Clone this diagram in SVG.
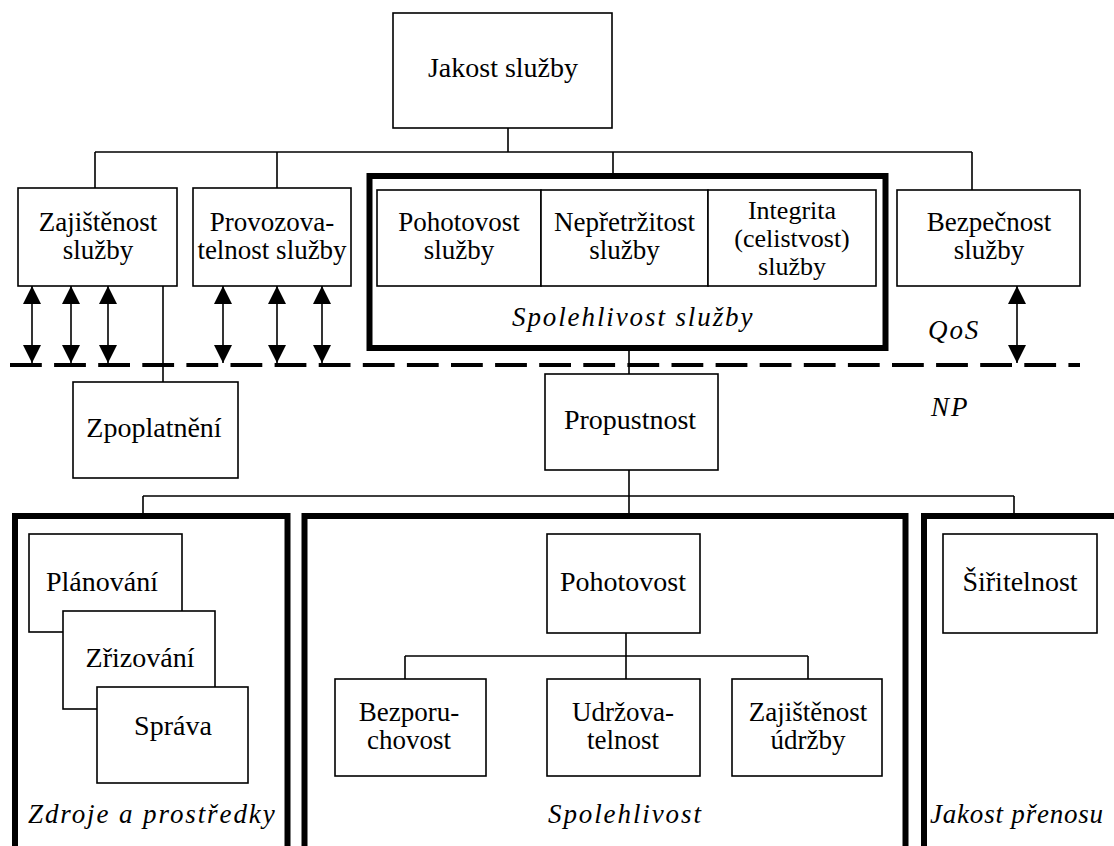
<svg xmlns="http://www.w3.org/2000/svg" width="1114" height="846" viewBox="0 0 1114 846">
<style>
.box{fill:#fff;stroke:#000;stroke-width:1.6}
.thick{fill:none;stroke:#000;stroke-width:6}
.ln{fill:none;stroke:#000;stroke-width:1.6}
.arr{fill:none;stroke:#000;stroke-width:1.6;marker-start:url(#ah);marker-end:url(#ah)}
.dash{fill:none;stroke:#000;stroke-width:4;stroke-dasharray:31.8 12.3}
.t{font-family:"Liberation Serif","Times New Roman",serif;font-size:28px;text-anchor:middle;fill:#000}
.t2{font-family:"Liberation Serif","Times New Roman",serif;font-size:27px;text-anchor:middle;fill:#000}
.t3{font-family:"Liberation Serif","Times New Roman",serif;font-size:26px;text-anchor:middle;fill:#000}
.it{font-family:"Liberation Serif","Times New Roman",serif;font-style:italic;font-size:27px;letter-spacing:1.9px;fill:#000}
</style>
<defs>
<marker id="ah" viewBox="0 0 18 18" markerWidth="18" markerHeight="18" markerUnits="userSpaceOnUse" refX="18" refY="9" orient="auto-start-reverse">
<path d="M0,0 L18,9 L0,18 z" fill="#000"/>
</marker>
</defs>
<rect width="1114" height="846" fill="#fff"/>

<g id="qos-np-boundary">
<line class="dash" x1="10" y1="365" x2="1080" y2="365"/>
<text class="it" x="928" y="339">QoS</text>
<text class="it" x="931" y="416">NP</text>
</g>

<g id="connectors">
<path class="ln" d="M508,128 V152 M95,152 H972 M95,152 V188 M277,152 V188 M613,152 V173 M972,152 V190"/>
<path class="ln" d="M163,286 V382"/>
<path class="ln" d="M629,351 V374 M629,470 V513"/>
<path class="ln" d="M143,496 H1014 M143,496 V513 M1014,496 V513"/>
<path class="ln" d="M626,633 V679 M405,656 H808 M405,656 V679 M808,656 V679"/>
<line class="arr" x1="32" y1="286" x2="32" y2="363"/>
<line class="arr" x1="71" y1="286" x2="71" y2="363"/>
<line class="arr" x1="108" y1="286" x2="108" y2="363"/>
<line class="arr" x1="223" y1="286" x2="223" y2="363"/>
<line class="arr" x1="277" y1="286" x2="277" y2="363"/>
<line class="arr" x1="322" y1="286" x2="322" y2="363"/>
<line class="arr" x1="1017" y1="286" x2="1017" y2="363"/>
</g>

<g id="jakost-sluzby">
<rect class="box" x="393" y="13" width="219" height="115"/>
<text class="t" x="503" y="77">Jakost služby</text>
</g>

<g id="zajistenost-sluzby">
<rect class="box" x="18" y="188" width="159" height="98"/>
<text class="t2" x="98" y="231">Zajištěnost</text>
<text class="t2" x="98" y="259">služby</text>
</g>

<g id="provozovatelnost-sluzby">
<rect class="box" x="193" y="188" width="158" height="98"/>
<text class="t2" x="272" y="231">Provozova-</text>
<text class="t2" x="272" y="259">telnost služby</text>
</g>

<g id="spolehlivost-sluzby">
<rect class="thick" x="369.5" y="176" width="516" height="172"/>
<text class="it" x="512" y="326">Spolehlivost služby</text>
</g>

<g id="pohotovost-sluzby">
<rect class="box" x="377" y="190" width="164" height="96"/>
<text class="t2" x="459" y="231">Pohotovost</text>
<text class="t2" x="459" y="259">služby</text>
</g>

<g id="nepretrzitost-sluzby">
<rect class="box" x="541" y="190" width="167" height="96"/>
<text class="t2" x="624.5" y="231">Nepřetržitost</text>
<text class="t2" x="624.5" y="259">služby</text>
</g>

<g id="integrita-sluzby">
<rect class="box" x="708" y="190" width="168" height="96"/>
<text class="t3" x="792" y="219">Integrita</text>
<text class="t3" x="792" y="247">(celistvost)</text>
<text class="t3" x="792" y="275">služby</text>
</g>

<g id="bezpecnost-sluzby">
<rect class="box" x="897" y="190" width="183" height="96"/>
<text class="t2" x="989" y="231">Bezpečnost</text>
<text class="t2" x="989" y="259">služby</text>
</g>

<g id="zpoplatneni">
<rect class="box" x="73" y="382" width="165" height="96"/>
<text class="t" x="154" y="437">Zpoplatnění</text>
</g>

<g id="propustnost">
<rect class="box" x="545" y="374" width="173" height="96"/>
<text class="t" x="630" y="429">Propustnost</text>
</g>

<g id="zdroje-a-prostredky">
<rect class="thick" x="15" y="516" width="272.5" height="360"/>
<text class="it" x="28" y="823">Zdroje a prostředky</text>
</g>

<g id="planovani">
<rect class="box" x="29" y="534" width="153" height="98"/>
<text class="t" x="102" y="591">Plánování</text>
</g>

<g id="zrizovani">
<rect class="box" x="63" y="611" width="152" height="98"/>
<text class="t" x="140" y="667">Zřizování</text>
</g>

<g id="sprava">
<rect class="box" x="97" y="687" width="151" height="96"/>
<text class="t" x="173" y="735">Správa</text>
</g>

<g id="spolehlivost">
<rect class="thick" x="304.5" y="516" width="601" height="360"/>
<text class="it" x="548" y="823">Spolehlivost</text>
</g>

<g id="pohotovost">
<rect class="box" x="547" y="534" width="153" height="99"/>
<text class="t" x="623" y="591">Pohotovost</text>
</g>

<g id="bezporuchovost">
<rect class="box" x="335" y="679" width="151" height="97"/>
<text class="t2" x="409" y="721">Bezporu-</text>
<text class="t2" x="409" y="749">chovost</text>
</g>

<g id="udrzovatelnost">
<rect class="box" x="547" y="679" width="153" height="97"/>
<text class="t2" x="623" y="721">Udržova-</text>
<text class="t2" x="623" y="749">telnost</text>
</g>

<g id="zajistenost-udrzby">
<rect class="box" x="732" y="679" width="150" height="97"/>
<text class="t2" x="808" y="721">Zajištěnost</text>
<text class="t2" x="808" y="749">údržby</text>
</g>

<g id="jakost-prenosu">
<rect class="thick" x="924" y="516" width="220" height="360"/>
<text class="it" x="930" y="823" style="letter-spacing:0.8px">Jakost přenosu</text>
</g>

<g id="siritelnost">
<rect class="box" x="943" y="534" width="154" height="99"/>
<text class="t" x="1020" y="591">Šiřitelnost</text>
</g>
</svg>
